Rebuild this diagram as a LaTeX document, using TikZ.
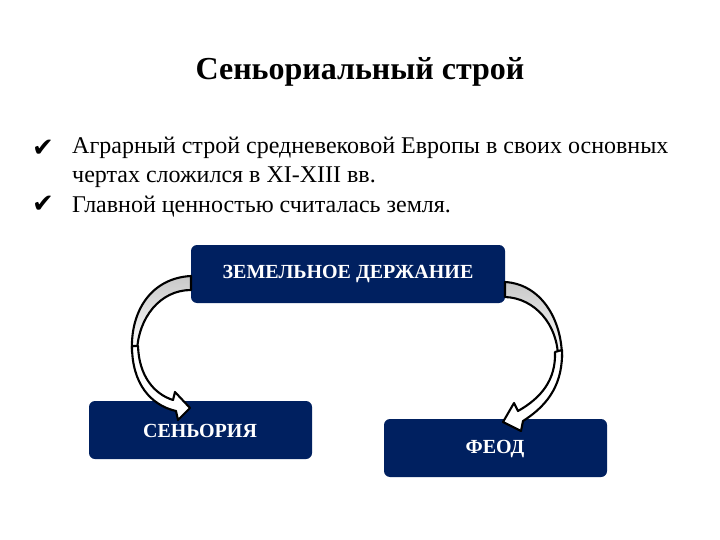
\documentclass[tikz,border=0pt]{standalone}
\usepackage{fontspec}
\setmainfont{Liberation Serif}
\newfontfamily\symfont{DejaVu Sans}
\definecolor{navy}{RGB}{0,32,96}
\definecolor{backgray}{RGB}{200,200,200}
\begin{document}
\begin{tikzpicture}[x=1pt,y=-1pt,
  box/.style={fill=navy,rounded corners=6pt,draw=none},
  boxtext/.style={text=white,font=\bfseries\fontsize{20}{24}\selectfont,anchor=center},
  body/.style={anchor=base west,font=\fontsize{24}{28}\selectfont,inner sep=0pt},
  chk/.style={anchor=base west,font=\symfont\fontsize{26}{30}\selectfont,inner sep=0pt},
  arrowline/.style={draw=black,line width=2.1pt,line join=round}]
\useasboundingbox (0,0) rectangle (720,540);
\fill[white] (0,0) rectangle (720,540);

\node[anchor=base,font=\bfseries\fontsize{32}{38}\selectfont,inner sep=0pt] (title) at (360,80) {Сеньориальный строй};

\node[chk] (c1) at (32,157) {✔};
\node[body] (t1) at (72,154) {Аграрный строй средневековой Европы в своих основных};
\node[body] (t2) at (72,183) {чертах сложился в XI-XIII вв.};
\node[chk] (c2) at (32,213) {✔};
\node[body] (t3) at (72,213) {Главной ценностью считалась земля.};

\fill[box] (191,245) rectangle (505,303);
\node[boxtext] (zd) at (348,274) {ЗЕМЕЛЬНОЕ ДЕРЖАНИЕ};
\fill[box] (89,401) rectangle (312,459);
\node[boxtext] (sen) at (200,431) {СЕНЬОРИЯ};
\fill[box] (384,419) rectangle (607,477);
\node[boxtext] (feod) at (495,449) {ФЕОД};

% left curved arrow
\path[arrowline,top color=backgray,bottom color=white]
  (191,276) .. controls (152,278) and (130,310) .. (132,352)
  -- (137,352) .. controls (138,318) and (160,290) .. (191,290) -- cycle;
\path[arrowline,fill=white]
  (132,346) .. controls (132,383) and (150,405) .. (176,411)
  -- (178,420) -- (190,408) -- (175,392) -- (173,400)
  .. controls (154,394) and (139,376) .. (138,346) -- cycle;

% right curved arrow
\path[arrowline,top color=backgray,bottom color=white]
  (505,282) .. controls (540,284) and (562,318) .. (562,358)
  -- (558,358) .. controls (558,325) and (535,298) .. (505,297) -- cycle;
\path[arrowline,fill=white]
  (562,350) .. controls (563,382) and (550,404) .. (523,421)
  -- (521,431) -- (503,422) -- (514,403) -- (518,411)
  .. controls (541,398) and (556,380) .. (555,352) -- cycle;
\end{tikzpicture}
\end{document}
